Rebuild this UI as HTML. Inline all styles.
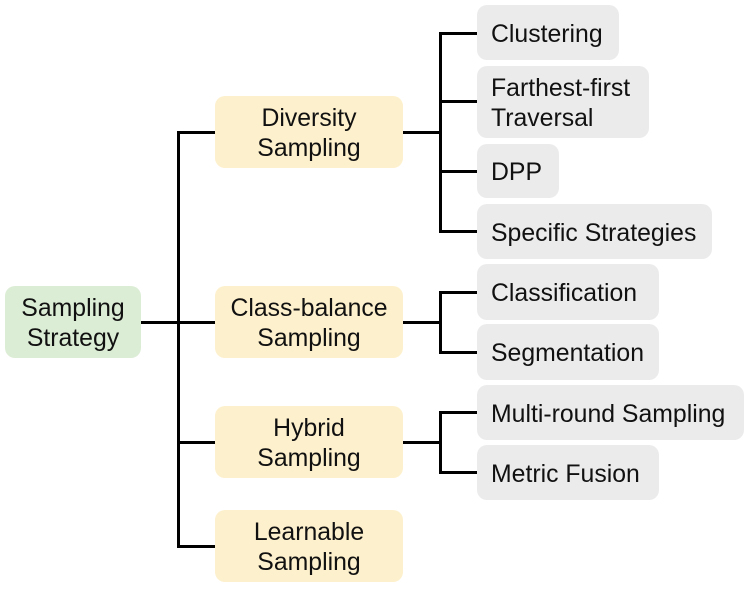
<!DOCTYPE html>
<html><head><style>
body{margin:0;width:748px;height:590px;background:#fff;position:relative;font-family:"Liberation Sans",sans-serif;overflow:hidden}
.b{position:absolute;border-radius:10px;display:flex;align-items:center;font-size:24.8px;color:#111;line-height:30px;padding-top:4px;box-sizing:border-box;white-space:nowrap}
.g{background:#dcedd5;justify-content:center;text-align:center}
.y{background:#fdf0cc;justify-content:center;text-align:center}
.l{background:#ebebeb;padding-left:14px}
.h,.v{position:absolute;background:#000}
.h{height:2.5px}.v{width:2.5px}
</style></head><body>
<div class="b g" style="left:5px;top:286px;width:136px;height:72px">Sampling<br>Strategy</div>
<div class="b y" style="left:215px;top:96px;width:188px;height:72px">Diversity<br>Sampling</div>
<div class="b y" style="left:215px;top:286px;width:188px;height:72px">Class-balance<br>Sampling</div>
<div class="b y" style="left:215px;top:406px;width:188px;height:72px">Hybrid<br>Sampling</div>
<div class="b y" style="left:215px;top:510px;width:188px;height:72px">Learnable<br>Sampling</div>
<div class="b l" style="left:477px;top:5px;width:142px;height:55px">Clustering</div>
<div class="b l" style="left:477px;top:66px;width:172px;height:72px">Farthest-first<br>Traversal</div>
<div class="b l" style="left:477px;top:144px;width:82px;height:54px">DPP</div>
<div class="b l" style="left:477px;top:204px;width:235px;height:55px">Specific Strategies</div>
<div class="b l" style="left:477px;top:264px;width:182px;height:56px">Classification</div>
<div class="b l" style="left:477px;top:324px;width:182px;height:56px">Segmentation</div>
<div class="b l" style="left:477px;top:385px;width:267px;height:55px">Multi-round Sampling</div>
<div class="b l" style="left:477px;top:445px;width:182px;height:55px">Metric Fusion</div>
<div class="h" style="left:141px;top:321px;width:74px"></div>
<div class="v" style="left:177px;top:131px;height:416px"></div>
<div class="h" style="left:177px;top:131px;width:38px"></div>
<div class="h" style="left:177px;top:441px;width:38px"></div>
<div class="h" style="left:177px;top:545px;width:38px"></div>
<div class="h" style="left:403px;top:131px;width:38px"></div>
<div class="v" style="left:439px;top:32px;height:200px"></div>
<div class="h" style="left:439px;top:32px;width:38px"></div>
<div class="h" style="left:439px;top:100px;width:38px"></div>
<div class="h" style="left:439px;top:170px;width:38px"></div>
<div class="h" style="left:439px;top:230px;width:38px"></div>
<div class="h" style="left:403px;top:321px;width:38px"></div>
<div class="v" style="left:439px;top:291px;height:62px"></div>
<div class="h" style="left:439px;top:291px;width:38px"></div>
<div class="h" style="left:439px;top:351px;width:38px"></div>
<div class="h" style="left:403px;top:441px;width:38px"></div>
<div class="v" style="left:439px;top:411px;height:62px"></div>
<div class="h" style="left:439px;top:411px;width:38px"></div>
<div class="h" style="left:439px;top:471px;width:38px"></div>
</body></html>
